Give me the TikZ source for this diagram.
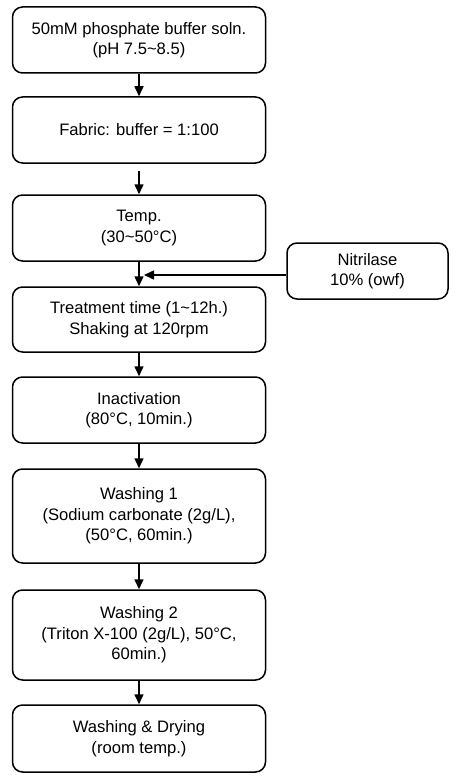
\documentclass[tikz,border=0pt]{standalone}
\usepackage{fontspec}
\setmainfont{Liberation Sans}
\usetikzlibrary{arrows.meta}
\begin{document}
\begin{tikzpicture}[x=1pt,y=-1pt,
  box/.style={draw,line width=1.5pt,rounded corners=10pt,align=center,
    font=\fontsize{16.6}{20.5}\selectfont,inner sep=0pt},
  arr/.style={line width=1.5pt,-{Triangle[length=10pt,width=9pt]}}]
\useasboundingbox (0,0) rectangle (457,781);
\node[box,minimum width=253pt,minimum height=66pt] (b1) at (139,40) {50mM phosphate buffer soln.\\(pH 7.5\textasciitilde 8.5)};
\node[box,minimum width=253pt,minimum height=66pt] (b2) at (139,130) {Fabric: buffer = 1:100};
\node[box,minimum width=253pt,minimum height=66pt] (b3) at (139,228) {Temp.\\(30\textasciitilde 50°C)};
\node[box,minimum width=253pt,minimum height=65pt] (b4) at (139,319.5) {Treatment time (1\textasciitilde 12h.)\\Shaking at 120rpm};
\node[box,minimum width=253pt,minimum height=66pt] (b5) at (139,410) {Inactivation\\(80°C, 10min.)};
\node[box,minimum width=253pt,minimum height=94pt] (b6) at (139,516) {Washing 1\\(Sodium carbonate (2g/L),\\(50°C, 60min.)};
\node[box,minimum width=253pt,minimum height=90pt] (b7) at (139,635) {Washing 2\\(Triton X-100 (2g/L), 50°C,\\60min.)};
\node[box,minimum width=253pt,minimum height=67pt] (b8) at (139,738.5) {Washing \& Drying\\(room temp.)};
\node[box,minimum width=161pt,minimum height=56pt] (n) at (367.5,271) {Nitrilase\\10\% (owf)};
\coordinate (m) at (144,275);
\draw[arr] (b1.south) -- (b2.north);
\draw[arr] ([yshift=-7pt]b2.south) -- (b3.north);
\draw[arr] (b3.south) -- (b4.north);
\draw[arr] (b4.south) -- (b5.north);
\draw[arr] (b5.south) -- (b6.north);
\draw[arr] (b6.south) -- (b7.north);
\draw[arr] (b7.south) -- (b8.north);
\draw[arr] (n.west |- m) -- (m);
\end{tikzpicture}
\end{document}
